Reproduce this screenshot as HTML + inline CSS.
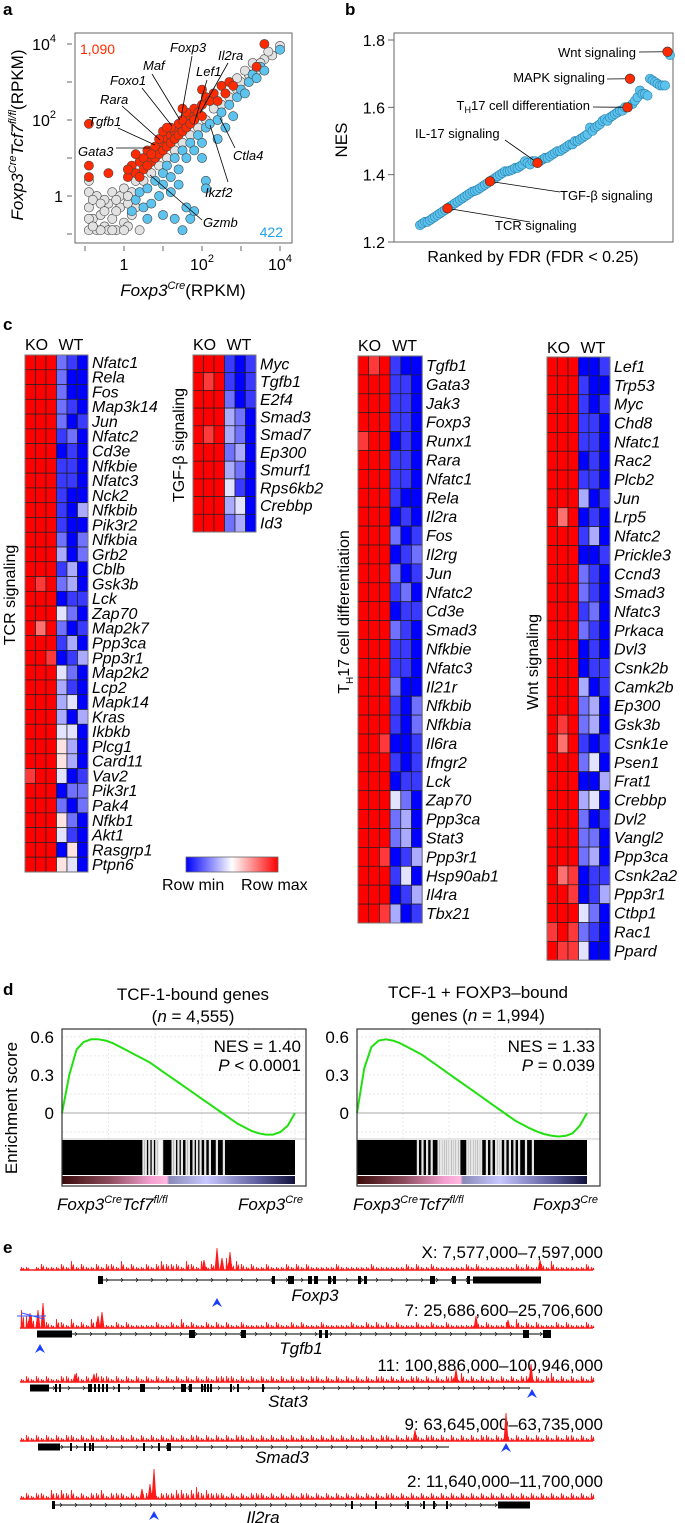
<!DOCTYPE html>
<html><head><meta charset="utf-8"><title>Figure</title>
<style>
html,body{margin:0;padding:0;background:#fff;}
svg{display:block;font-family:"Liberation Sans",sans-serif;}
.it{font-style:italic;}
</style></head>
<body>
<svg id="fig" xmlns="http://www.w3.org/2000/svg" width="685" height="1523" viewBox="0 0 685 1523">
<rect x="0" y="0" width="685" height="1523" fill="#fff"/>
<text x="3" y="15" font-size="17" font-weight="bold">a</text>
<text x="345" y="15" font-size="17" font-weight="bold">b</text>
<text x="3" y="330" font-size="17" font-weight="bold">c</text>
<text x="3" y="995" font-size="17" font-weight="bold">d</text>
<text x="3" y="1253" font-size="17" font-weight="bold">e</text>

<g>
<rect x="75" y="33" width="217" height="210" fill="none" stroke="#666" stroke-width="1"/>
</g>
<text x="80" y="54" font-size="14" fill="#ff2a00">1,090</text>
<text x="283" y="237" font-size="14" fill="#1fa2ee" text-anchor="end">422</text>
<text x="183" y="296" font-size="17" text-anchor="middle"><tspan class="it">Foxp3</tspan><tspan class="it" font-size="11" dy="-7">Cre</tspan><tspan dy="7">(RPKM)</tspan></text>
<text transform="translate(23,135) rotate(-90)" font-size="17" text-anchor="middle"><tspan class="it">Foxp3</tspan><tspan class="it" font-size="11" dy="-7">Cre</tspan><tspan class="it" dy="7">Tcf7</tspan><tspan class="it" font-size="11" dy="-7">fl/fl</tspan><tspan dy="7">(RPKM)</tspan></text>

<rect x="394" y="33" width="279" height="209" fill="none" stroke="#666" stroke-width="1"/>
<text transform="translate(347,140) rotate(-90)" font-size="17" text-anchor="middle">NES</text>
<text x="533" y="262" font-size="16" text-anchor="middle">Ranked by FDR (FDR &lt; 0.25)</text>

<text transform="translate(15,595) rotate(-90)" font-size="16" text-anchor="middle">TCR signaling</text>
<text transform="translate(184,445) rotate(-90)" font-size="16" text-anchor="middle">TGF-β signaling</text>
<text transform="translate(349,612) rotate(-90)" font-size="16" text-anchor="middle">T<tspan font-size="10" dy="4">H</tspan><tspan dy="-4">17 cell differentiation</tspan></text>
<text transform="translate(538,662) rotate(-90)" font-size="16" text-anchor="middle">Wnt signaling</text>
<defs>
<linearGradient id="rowgrad" x1="0" x2="1" y1="0" y2="0">
<stop offset="0" stop-color="#0000ff"/><stop offset="0.5" stop-color="#ffffff"/><stop offset="1" stop-color="#ff0000"/>
</linearGradient>
<linearGradient id="stripL" x1="0" x2="1" y1="0" y2="0">
<stop offset="0" stop-color="#3a0a0a"/><stop offset="0.2" stop-color="#8a4a5a"/><stop offset="0.38" stop-color="#f4a0d0"/><stop offset="0.45" stop-color="#ffb8e0"/><stop offset="0.46" stop-color="#8a8ab8"/><stop offset="0.62" stop-color="#c8c8ff"/><stop offset="0.85" stop-color="#5a5a9a"/><stop offset="1" stop-color="#10103a"/>
</linearGradient>
</defs>
<rect x="186" y="857" width="92" height="15" fill="url(#rowgrad)" stroke="#666" stroke-width="0.8"/>
<text x="162" y="890" font-size="16">Row min</text>
<text x="241" y="890" font-size="16">Row max</text>

<text x="193" y="1000" font-size="17" text-anchor="middle">TCF-1-bound genes</text>
<text x="193" y="1022" font-size="17" text-anchor="middle">(<tspan class="it">n</tspan> = 4,555)</text>
<text x="478" y="998" font-size="17" text-anchor="middle">TCF-1 + FOXP3–bound</text>
<text x="478" y="1021" font-size="17" text-anchor="middle">genes (<tspan class="it">n</tspan> = 1,994)</text>
<text transform="translate(17,1108) rotate(-90)" font-size="17" text-anchor="middle">Enrichment score</text>
<text x="57" y="1210" font-size="17"><tspan class="it">Foxp3</tspan><tspan class="it" font-size="11" dy="-7">Cre</tspan><tspan class="it" dy="7">Tcf7</tspan><tspan class="it" font-size="11" dy="-7">fl/fl</tspan></text>
<text x="238" y="1210" font-size="17"><tspan class="it">Foxp3</tspan><tspan class="it" font-size="11" dy="-7">Cre</tspan></text>
<text x="353" y="1210" font-size="17"><tspan class="it">Foxp3</tspan><tspan class="it" font-size="11" dy="-7">Cre</tspan><tspan class="it" dy="7">Tcf7</tspan><tspan class="it" font-size="11" dy="-7">fl/fl</tspan></text>
<text x="533" y="1210" font-size="17"><tspan class="it">Foxp3</tspan><tspan class="it" font-size="11" dy="-7">Cre</tspan></text>
</svg>

<script>
const aGrey = [[-0.9,-0.9],[-0.8,-0.6],[-0.7,-0.9],[-0.9,-0.3],[-0.6,-0.5],[-0.5,-0.8],[-0.4,-0.2],[-0.3,-0.6],[-0.2,-0.9],[-0.1,-0.3],[0.0,-0.7],[-0.9,0.1],[-0.7,0.0],[-0.5,-0.1],[-0.3,0.1],[-0.1,0.0],[0.0,0.2],[0.1,-0.2],[0.1,-0.8],[0.2,0.1],[0.3,0.4],[-0.8,-0.1],[-0.6,-0.2],[-0.2,-0.4],[0.5,0.4],[0.7,0.6],[0.9,0.8],[1.1,1.0],[1.3,1.2],[1.5,1.4],[1.7,1.6],[1.9,1.8],[2.1,2.0],[2.3,2.3],[2.5,2.4],[2.7,2.6],[2.9,2.8],[3.0,3.0],[3.2,3.2],[3.4,3.3],[3.6,3.6],[3.8,3.7],[4.0,3.95],[3.3,3.5],[2.9,3.1],[-0.9,-0.6],[-0.4,-0.9],[-0.9,0.4],[0.2,-0.5],[0.4,-0.9],[-0.6,-0.9],[-0.3,-0.9],[0.0,-0.9],[-0.8,-0.8],[-0.5,-0.4],[-0.2,-0.1],[0.1,0.0],[0.3,-0.3],[3.1,3.3],[3.5,3.5],[3.7,3.8]];
const aRed = [[-0.9,1.9],[-0.9,0.8],[-0.9,0.5],[-0.4,0.6],[0.1,0.5],[0.2,0.8],[0.3,0.6],[0.4,0.9],[0.5,1.0],[0.5,0.7],[0.6,1.2],[0.7,0.9],[0.8,1.3],[0.8,1.0],[0.9,1.1],[1.0,1.4],[1.0,1.2],[1.1,1.5],[1.1,1.3],[1.2,1.6],[1.2,1.4],[1.3,1.7],[1.3,1.5],[1.4,1.9],[1.4,1.6],[1.5,2.0],[1.5,1.7],[1.6,1.8],[1.7,2.1],[1.7,1.9],[1.8,2.3],[1.8,2.0],[1.9,2.2],[2.0,2.4],[2.0,2.1],[2.1,2.6],[2.2,2.5],[2.3,2.7],[2.4,2.5],[2.5,2.9],[2.6,2.7],[2.7,3.0],[2.8,2.9],[3.4,3.4],[3.6,4.0],[0.4,0.5],[0.6,0.8],[0.9,1.5],[1.2,1.8],[1.6,2.2],[2.0,2.8],[0.3,1.1],[1.0,1.7],[1.5,2.3],[0.1,0.7],[0.7,1.1],[1.1,1.8]];
const aBlue = [[0.2,-0.4],[0.3,-0.1],[0.4,0.1],[0.5,-0.3],[0.6,0.2],[0.7,-0.2],[0.8,0.4],[0.9,0.0],[1.0,0.6],[1.0,-0.5],[1.1,0.8],[1.2,0.5],[1.3,1.0],[1.3,-0.6],[1.4,0.7],[1.5,1.2],[1.5,-0.9],[1.6,1.0],[1.7,1.4],[1.7,-0.6],[1.8,1.2],[1.9,1.6],[2.0,1.4],[2.1,1.8],[2.2,1.9],[2.1,0.4],[2.1,0.2],[2.4,2.0],[2.5,2.2],[2.6,1.8],[2.7,2.4],[2.8,2.1],[2.9,2.6],[3.0,2.8],[3.1,2.7],[3.2,3.0],[3.3,3.2],[3.4,3.1],[3.5,3.4],[3.6,3.3],[4.0,3.85],[1.0,0.3],[1.4,0.3],[0.6,-0.6],[2.0,1.0],[1.6,-0.3],[2.4,1.5],[1.8,-0.4],[1.2,0.1]];
const aXTicks = [-1,0,1,2,3,4];
const aYTicks = [-1,0,1,2,3,4];
const aTickLabels = {0:"1",2:"10",4:"10"};
const aGeneLabels = ["Foxp3","Maf","Il2ra","Lef1","Foxo1","Rara","Tgfb1","Gata3","Ctla4","Ikzf2","Gzmb"];

const bNes = [1.25,1.255,1.26,1.26,1.265,1.27,1.275,1.28,1.285,1.29,
1.295,1.30,1.305,1.31,1.315,1.32,1.325,1.33,1.335,1.34,
1.345,1.35,1.352,1.355,1.36,1.365,1.37,1.375,1.38,1.385,
1.39,1.395,1.40,1.405,1.41,1.41,1.412,1.415,1.42,1.42,
1.425,1.43,1.44,1.435,1.43,1.44,1.44,1.435,1.44,1.445,
1.45,1.45,1.455,1.46,1.465,1.47,1.47,1.475,1.48,1.485,
1.49,1.49,1.50,1.50,1.505,1.51,1.515,1.52,1.54,1.53,
1.54,1.545,1.55,1.56,1.565,1.56,1.57,1.575,1.58,1.585,
1.59,1.59,1.60,1.60,1.685,1.61,1.62,1.63,1.65,1.64,
1.64,1.635,1.685,1.68,1.675,1.67,1.665,1.665,1.665,1.765,1.755];
const bHighlightIdx = [11,28,47,83,84,99];
const bHighlightNames = ["TCR signaling","TGF-β signaling","IL-17 signaling","TH17 cell differentiation","MAPK signaling","Wnt signaling"];
const bYTicks = [1.2,1.4,1.6,1.8];

const tcrGenes = ["Nfatc1","Rela","Fos","Map3k14","Jun","Nfatc2","Cd3e","Nfkbie","Nfatc3","Nck2","Nfkbib","Pik3r2","Nfkbia","Grb2","Cblb","Gsk3b","Lck","Zap70","Map2k7","Ppp3ca","Ppp3r1","Map2k2","Lcp2","Mapk14","Kras","Ikbkb","Plcg1","Card11","Vav2","Pik3r1","Pak4","Nfkb1","Akt1","Rasgrp1","Ptpn6"];
const tcrValues = [[9,9,9,2,1,0],[9,9,9,2,0,0],[9,9,9,2,0,0],[9,9,9,2,1,0],[9,9,9,2,0,1],[9,9,9,1,2,0],[9,9,9,0,1,0],[9,9,9,1,1,0],[9,9,9,1,1,0],[9,9,9,1,0,0],[9,9,9,1,0,3],[9,9,9,1,0,0],[9,9,9,2,0,2],[9,9,9,3,0,2],[9,9,9,1,3,0],[9,8,9,2,3,0],[9,9,9,0,1,1],[9,9,9,4,2,0],[9,7,9,2,0,1],[9,9,9,1,3,0],[9,9,8,0,1,3],[9,9,9,4,2,0],[9,9,9,3,1,0],[9,9,9,3,4,0],[9,9,9,3,0,3],[9,9,9,4,4,0],[9,9,9,5,3,0],[9,9,9,5,3,0],[8,9,9,4,0,1],[9,9,9,0,2,2],[9,9,9,2,0,2],[9,9,9,5,2,0],[9,9,9,4,1,0],[9,9,9,0,5,0],[9,9,9,5,4,0]];
const tgfGenes = ["Myc","Tgfb1","E2f4","Smad3","Smad7","Ep300","Smurf1","Rps6kb2","Crebbp","Id3"];
const tgfValues = [[9,9,9,1,0,1],[9,8,9,1,0,1],[9,9,9,2,0,1],[9,9,9,3,2,0],[9,8,9,3,2,0],[9,9,9,2,3,0],[9,9,9,3,2,0],[9,9,9,4,1,0],[9,9,9,3,4,0],[9,9,9,2,3,0]];
const th17Genes = ["Tgfb1","Gata3","Jak3","Foxp3","Runx1","Rara","Nfatc1","Rela","Il2ra","Fos","Il2rg","Jun","Nfatc2","Cd3e","Smad3","Nfkbie","Nfatc3","Il21r","Nfkbib","Nfkbia","Il6ra","Ifngr2","Lck","Zap70","Ppp3ca","Stat3","Ppp3r1","Hsp90ab1","Il4ra","Tbx21"];
const th17Values = [[9,8,9,1,0,0],[9,9,9,1,1,0],[9,9,9,1,1,0],[9,9,9,1,1,0],[8,9,9,0,1,0],[9,9,9,1,1,0],[9,9,9,1,1,0],[9,9,9,1,0,0],[9,9,9,0,1,0],[9,9,9,2,0,1],[9,9,9,0,1,2],[9,9,9,2,0,1],[9,9,9,1,2,0],[9,9,9,0,1,1],[9,9,9,2,1,0],[9,9,9,1,1,0],[9,9,9,1,1,0],[9,9,9,2,0,0],[9,9,9,1,0,2],[9,9,9,1,0,2],[9,9,8,0,0,1],[9,9,9,1,0,1],[9,9,9,0,1,1],[9,9,9,4,2,0],[9,9,9,2,3,0],[9,9,9,2,3,0],[9,9,8,0,1,3],[9,9,9,1,4,0],[9,9,9,0,1,3],[9,9,8,3,0,1]];
const wntGenes = ["Lef1","Trp53","Myc","Chd8","Nfatc1","Rac2","Plcb2","Jun","Lrp5","Nfatc2","Prickle3","Ccnd3","Smad3","Nfatc3","Prkaca","Dvl3","Csnk2b","Camk2b","Ep300","Gsk3b","Csnk1e","Psen1","Frat1","Crebbp","Dvl2","Vangl2","Ppp3ca","Csnk2a2","Ppp3r1","Ctbp1","Rac1","Ppard"];
const wntValues = [[9,9,9,0,0,1],[9,9,9,1,0,0],[9,9,9,1,0,1],[9,9,9,1,1,0],[9,9,9,1,1,0],[9,9,9,0,1,0],[9,9,9,1,1,0],[9,9,9,3,0,1],[9,7,9,0,1,0],[9,9,9,1,3,0],[9,9,9,0,0,1],[9,9,9,2,1,0],[9,9,9,2,1,0],[9,9,9,1,2,0],[9,9,9,2,1,0],[9,9,9,0,1,0],[9,9,9,0,1,1],[9,9,9,3,0,1],[9,9,9,2,3,0],[9,8,9,2,3,0],[9,7,9,1,0,1],[9,9,9,2,4,0],[9,9,9,0,0,3],[9,9,9,3,4,0],[9,9,9,2,0,1],[9,9,9,2,2,0],[9,9,9,2,3,0],[9,7,8,0,1,1],[9,9,8,0,1,3],[9,9,9,4,2,0],[8,9,8,2,1,0],[9,8,8,4,0,0]];

const esLeft = [0,0.30,0.50,0.56,0.58,0.58,0.57,0.55,0.52,0.49,0.46,0.43,0.40,0.36,0.32,0.28,0.24,0.20,0.16,0.12,0.08,0.04,0.0,-0.04,-0.08,-0.11,-0.14,-0.16,-0.17,-0.17,-0.15,-0.10,0.0];
const esRight = [0,0.35,0.52,0.57,0.58,0.57,0.55,0.52,0.49,0.46,0.42,0.38,0.34,0.30,0.26,0.22,0.18,0.14,0.10,0.06,0.02,-0.02,-0.06,-0.09,-0.12,-0.145,-0.165,-0.178,-0.185,-0.18,-0.16,-0.10,0.0];
const esTicks = [0,0.3,0.6];
const barcodeGapsLeft = [0.345,0.355,0.37,0.385,0.40,0.41,0.415,0.42,0.425,0.47,0.48,0.495,0.51,0.53,0.54,0.56,0.575,0.59,0.61,0.63,0.66,0.69];
const barcodeGapsRight = [0.26,0.28,0.30,0.32,0.35,0.36,0.37,0.38,0.39,0.40,0.41,0.42,0.43,0.44,0.475,0.485,0.495,0.505,0.515,0.525,0.535,0.56,0.58,0.60,0.61,0.62,0.64,0.66,0.68,0.70,0.73,0.76];

const trackCoords = ["X: 7,577,000–7,597,000","7: 25,686,600–25,706,600","11: 100,886,000–100,946,000","9: 63,645,000–63,735,000","2: 11,640,000–11,700,000"];
const trackGenes = ["Foxp3","Tgfb1","Stat3","Smad3","Il2ra"];
const trackNoise = [
"1101211121312112122131211212322213213123142321211211121212111112111111211111121211211111121211111112121121311111121211",
"6442121321312132211212111112112131211212121121111212112121112111112112121212111211211211111212111213121211121211121211",
"1212121122131213221212121212121212121212222121212121212121221212121212122121212212121221312121212121221212312121212121",
"1212121212212121212121212121212121221212121221212121212121212121212121212212121212212121212122121212121212121221212121",
"1212213232312122312221212221222332342322212121222121212122121212121212121221212121212121212121212121212121212121212121"];
const trackPeaks = [[[217,22],[230,18],[222,12],[204,10],[540,10]],[[43,25],[30,15],[38,18],[102,16],[98,12],[476,12],[508,8]],[[531,18],[456,13],[94,8],[75,8]],[[506,28],[415,11]],[[154,30],[150,15],[142,10]]];
const trackExons = [
[[98,103],[272,275],[288,294],[308,312],[314,318],[328,331],[333,336],[358,361],[364,367],[430,435],[452,456],[467,470]],
[[189,195],[241,246],[319,322],[325,328],[523,529],[543,551]],
[[55,57],[59,61],[88,92],[94,96],[98,100],[102,104],[106,108],[118,120],[140,145],[181,186],[189,192],[201,203],[204,206],[207,209],[210,212],[230,232],[237,239],[262,264]],
[[70,72],[84,86],[89,91],[92,94],[143,145],[158,160],[167,171]],
[[52,55],[351,353],[375,377],[407,409],[423,425],[433,435],[446,448]]];
const trackThick = [[473,541],[37,72],[30,49],[38,60],[498,530]];
const trackSpan = [[98,541],[37,551],[30,530],[38,449],[52,530]];
const trackArrows = [[217,1302],[40,1348],[532,1393],[506,1447],[154,1515]];

const NS = "http://www.w3.org/2000/svg";
const svg = document.getElementById('fig');
function mk(tag, attrs, parent){
  const e = document.createElementNS(NS, tag);
  for (const k in attrs) e.setAttribute(k, attrs[k]);
  (parent || svg).appendChild(e);
  return e;
}
function txt(s, attrs, parent){ const t = mk('text', attrs, parent); t.textContent = s; return t; }

const ax = v => 124 + v*39;
const ay = v => 196 - v*38;
const gA = mk('g', {});


aXTicks.forEach(t => {
  const l = mk('line', {x1:ax(t), x2:ax(t), y1:246, y2:251, stroke:'#666'}, gA);
  
  
  if (aTickLabels[t] !== undefined) {
    const tl = mk('text', {x:ax(t), y:270, 'font-size':16, 'text-anchor':'middle'}, gA);
    
    
    tl.textContent = aTickLabels[t];
    if (t > 0) { const sp = mk('tspan', {'font-size':11, dy:-8}, tl); sp.textContent = String(t); }
  }
});
aYTicks.forEach(t => {
  const l = mk('line', {x1:67, x2:72, y1:ay(t), y2:ay(t), stroke:'#666'}, gA);
  
  
  if (aTickLabels[t] !== undefined) {
    const tl = mk('text', {x: t>0 ? 56 : 63, y:ay(t)+6, 'font-size':16, 'text-anchor':'end'}, gA);
    
    
    tl.textContent = aTickLabels[t];
    if (t > 0) { const sp = mk('tspan', {'font-size':11, dy:-8}, tl); sp.textContent = String(t); }
  }
});
function dots(arr, fill, name){
  arr.forEach(p => {
    const cx = Math.max(80, Math.min(287, ax(p[0])));
    const cy = Math.max(38, Math.min(234, ay(p[1])));
    const c = mk('circle', {cx:cx, cy:cy, r:4.6, fill:fill, stroke:'#444', 'stroke-width':0.6}, gA);
    
    
  });
}
dots(aGrey, '#e2e2e2', 'gene-point-unchanged');
dots(aBlue, '#5cc3ee', 'gene-point-down');
dots(aRed, '#ff2a00', 'gene-point-up');
const aLabelPos = [[170,52,192,56,181,118],[143,70,152,74,180,120],[218,60,228,63,200,113],[196,76,207,80,194,124],[110,85,142,88,172,126],[100,104,122,106,160,140],[88,126,118,128,155,145],[78,156,116,148,150,148],[233,160,235,148,220,118],[205,197,228,182,210,125],[203,227,202,220,150,175]];
aGeneLabels.forEach((g,i) => {
  const p = aLabelPos[i];
  const ln = mk('line', {x1:p[2], y1:p[3], x2:p[4], y2:p[5], stroke:'#000', 'stroke-width':0.8}, gA);
  
  
  const t = txt(g, {x:p[0], y:p[1], 'font-size':13, 'font-style':'italic'}, gA);
  
  
});

const bx = i => 420 + i*2.5;
const by = v => 242 - (v - 1.2) / 0.6 * 202;
const gB = mk('g', {});


bYTicks.forEach(t => {
  const l = mk('line', {x1:388, x2:394, y1:by(t), y2:by(t), stroke:'#666'}, gB);
  
  
  const tl = txt(t.toFixed(1), {x:385, y:by(t)+6, 'font-size':16, 'text-anchor':'end'}, gB);
  
  
});
bNes.forEach((v,i) => {
  if (bHighlightIdx.indexOf(i) >= 0) return;
  const c = mk('circle', {cx:bx(i), cy:by(v), r:4.6, fill:'#5cc3ee', stroke:'#2a7fa8', 'stroke-width':0.6}, gB);
  
  
});
const bLabelPos = [[495,230,'start',530,222],[560,200,'start',560,192],[415,138,'start',505,140],[590,110,'end',593,107],[605,82,'end',607,79],[636,57,'end',639,52]];
bHighlightIdx.forEach((idx,k) => {
  const px = bx(idx), py = by(bNes[idx]);
  const p = bLabelPos[k];
  const ln = mk('line', {x1:p[3], y1:p[4], x2:px, y2:py, stroke:'#000', 'stroke-width':0.8}, gB);
  
  
  const c = mk('circle', {cx:px, cy:py, r:4.8, fill:'#ff2a00', stroke:'#333', 'stroke-width':0.6}, gB);
  
  
  const t = mk('text', {x:p[0], y:p[1], 'font-size':13, 'text-anchor':p[2]}, gB);
  
  
  const nm = bHighlightNames[k];
  if (nm.indexOf('TH17') === 0) {
    t.textContent = 'T';
    const s1 = mk('tspan', {'font-size':9, dy:3}, t); s1.textContent = 'H';
    const s2 = mk('tspan', {dy:-3}, t); s2.textContent = '17 cell differentiation';
  } else t.textContent = nm;
});

function color(v){
  const f = v/9;
  let r,g,b;
  if (f < 0.5){ const k = f/0.5; r = Math.round(255*k); g = Math.round(255*k); b = 255; }
  else { const k = (f-0.5)/0.5; r = 255; g = Math.round(255*(1-k)); b = Math.round(255*(1-k)); }
  return 'rgb('+r+','+g+','+b+')';
}
function heatmap(genes, values, x0, y0, cw, rh, labelX, hdrY, name){
  const g = mk('g', {});
  
  
  const ko = txt('KO', {x:x0, y:hdrY, 'font-size':16}, g);
  
  
  const wt = txt('WT', {x:x0+cw*3+2, y:hdrY, 'font-size':16}, g);
  
  
  values.forEach((row,r) => {
    row.forEach((v,c) => {
      const rc = mk('rect', {x:x0+c*cw, y:y0+r*rh, width:cw, height:rh, fill:color(v), stroke:'#222', 'stroke-width':0.7}, g);
      
      
    });
    const t = txt(genes[r], {x:labelX, y:y0+r*rh+rh/2+5.5, 'font-size':16, 'font-style':'italic'}, g);
    
    
  });
  const fr = mk('rect', {x:x0, y:y0, width:cw*6, height:rh*values.length, fill:'none', stroke:'#777', 'stroke-width':1}, g);
  
  
}
heatmap(tcrGenes, tcrValues, 25, 355, 10.5, 14.77, 92, 350, 'tcr-heatmap');
heatmap(tgfGenes, tgfValues, 193, 355, 10.5, 17.7, 260, 350, 'tgfb-heatmap');
heatmap(th17Genes, th17Values, 358, 356, 10.7, 18.9, 426, 351, 'th17-heatmap');
heatmap(wntGenes, wntValues, 547, 357, 10.5, 18.85, 614, 353, 'wnt-heatmap');

function gsea(es, gaps, x0, x1, xin, nesText, pText, name){
  const g = mk('g', {});
  
  
  const ey = v => 1113 - v*127;
  const yTop = 1029, yCurveBot = 1139, yBot = 1186;
  for (let k=1;k<6;k++){
    const gx = x0 + (xin-x0)*k/5;
    const gl = mk('line', {x1:gx, x2:gx, y1:yTop, y2:yCurveBot, stroke:'#e4e4e4', 'stroke-width':0.8, 'stroke-dasharray':'2,2'}, g);
    
    
  }
  [0.6,0.45,0.3,0.15,-0.15].forEach(v => {
    const gl = mk('line', {x1:x0, x2:x1, y1:ey(v), y2:ey(v), stroke:'#e4e4e4', 'stroke-width':0.8, 'stroke-dasharray':'2,2'}, g);
    
    
  });
  const zl = mk('line', {x1:x0, x2:x1, y1:ey(0), y2:ey(0), stroke:'#aaa', 'stroke-width':1}, g);
  
  
  esTicks.forEach(t => {
    const tl = txt(t === 0 ? '0' : t.toFixed(1), {x:x0-8, y:ey(t)+6, 'font-size':17, 'text-anchor':'end'}, g);
    
    
  });
  const bc = mk('rect', {x:x0, y:yCurveBot+1, width:xin-x0, height:35, fill:'#000'}, g);
  
  
  gaps.forEach(f => {
    const w = mk('rect', {x:x0+(xin-x0)*f, y:yCurveBot+1, width:2.2, height:35, fill:'#fff', opacity:0.9}, g);
    
    
  });
  const st = mk('rect', {x:x0, y:yCurveBot+37, width:xin-x0, height:8, fill:'url(#stripL)'}, g);
  
  
  const sep = mk('line', {x1:x0, x2:x1, y1:yCurveBot, y2:yCurveBot, stroke:'#ccc'}, g);
  
  
  let d = '';
  es.forEach((v,i) => { const px = x0 + (xin-x0)*i/(es.length-1); d += (i?'L':'M') + px.toFixed(1) + ',' + ey(v).toFixed(1); });
  const cv = mk('path', {d:d, fill:'none', stroke:'#22e010', 'stroke-width':2, 'stroke-linejoin':'round'}, g);
  
  
  const fr = mk('rect', {x:x0, y:yTop, width:x1-x0, height:yBot-yTop, fill:'none', stroke:'#333', 'stroke-width':1.2}, g);
  
  
  const n = txt(nesText, {x:x1-5, y:1052, 'font-size':17, 'text-anchor':'end'}, g);
  
  
  const p = mk('text', {x:x1-5, y:1071, 'font-size':17, 'text-anchor':'end'}, g);
  
  
  const pi = mk('tspan', {'font-style':'italic'}, p); pi.textContent = 'P';
  const pr = mk('tspan', {}, p); pr.textContent = pText;
}
gsea(esLeft, barcodeGapsLeft, 62, 306, 295, 'NES = 1.40', ' < 0.0001', 'gsea-tcf1-bound');
gsea(esRight, barcodeGapsRight, 357, 600, 587, 'NES = 1.33', '  = 0.039', 'gsea-tcf1-foxp3-bound');

const baseY = [1270,1328,1382,1441,1499];
const geneY = [1280,1334,1388,1447,1505];
const labelY = [1295,1348,1401,1457,1517];
const coordY = [1258,1316,1371,1430,1487];
const labelX = [315,301,288,282,263];
baseY.forEach((by0,t) => {
  const g = mk('g', {});
  
  
  const ct = txt(trackCoords[t], {x:603, y:coordY[t], 'font-size':17, 'text-anchor':'end'}, g);
  
  
  let d = 'M20,' + by0;
  const s = trackNoise[t];
  for (let i=0;i<115;i++){
    const h = parseInt(s[i]) * 3;
    const x = 20 + i*5;
    d += 'L' + (x+1) + ',' + by0 + 'L' + (x+1.5) + ',' + (by0-h) + 'L' + (x+2) + ',' + by0 + 'L' + (x+3.5) + ',' + (by0-h*0.6) + 'L' + (x+4) + ',' + by0;
  }
  const sig = mk('path', {d:d, fill:'#ff1a1a', stroke:'#ff1a1a', 'stroke-width':0.8}, g);
  
  
  trackPeaks[t].forEach(pk => {
    const p = mk('path', {d:'M'+(pk[0]-2)+','+by0+'L'+pk[0]+','+(by0-pk[1])+'L'+(pk[0]+2)+','+by0+'Z', fill:'#ff1a1a', stroke:'#ff1a1a', 'stroke-width':0.8}, g);
    
    
  });
  const bl = mk('line', {x1:20, x2:593, y1:by0, y2:by0, stroke:'#ff1a1a', 'stroke-width':1.5}, g);
  
  
  const sp = trackSpan[t];
  const gl = mk('line', {x1:sp[0], x2:sp[1], y1:geneY[t], y2:geneY[t], stroke:'#000', 'stroke-width':1}, g);
  
  
  for (let x = sp[0]+8; x < sp[1]; x += 15) {
    const ar = mk('path', {d:'M'+x+','+(geneY[t]-2)+'L'+(x+2)+','+geneY[t]+'L'+x+','+(geneY[t]+2), fill:'none', stroke:'#000', 'stroke-width':0.6}, g);
    
    
  }
  trackExons[t].forEach(ex => {
    const r = mk('rect', {x:ex[0], y:geneY[t]-4, width:ex[1]-ex[0], height:8, fill:'#000'}, g);
    
    
  });
  const th = trackThick[t];
  const tr = mk('rect', {x:th[0], y:geneY[t]-3.5, width:th[1]-th[0], height:7, fill:'#000'}, g);
  
  
  const gn = txt(trackGenes[t], {x:labelX[t], y:labelY[t]+6, 'font-size':17, 'font-style':'italic', 'text-anchor':'middle'}, g);
  
  
  const a = trackArrows[t];
  const ah = mk('path', {d:'M'+(a[0]-5)+','+(a[1]+5)+'L'+a[0]+','+(a[1]-4)+'L'+(a[0]+5)+','+(a[1]+5)+'L'+a[0]+','+(a[1]+2)+'Z', fill:'#1a3cff'}, g);
  
  
});
const blueMark = mk('path', {d:'M17,1316L46,1316M22,1313L44,1319', stroke:'#3050ff', 'stroke-width':1, fill:'none'});


</script>
</body></html>
